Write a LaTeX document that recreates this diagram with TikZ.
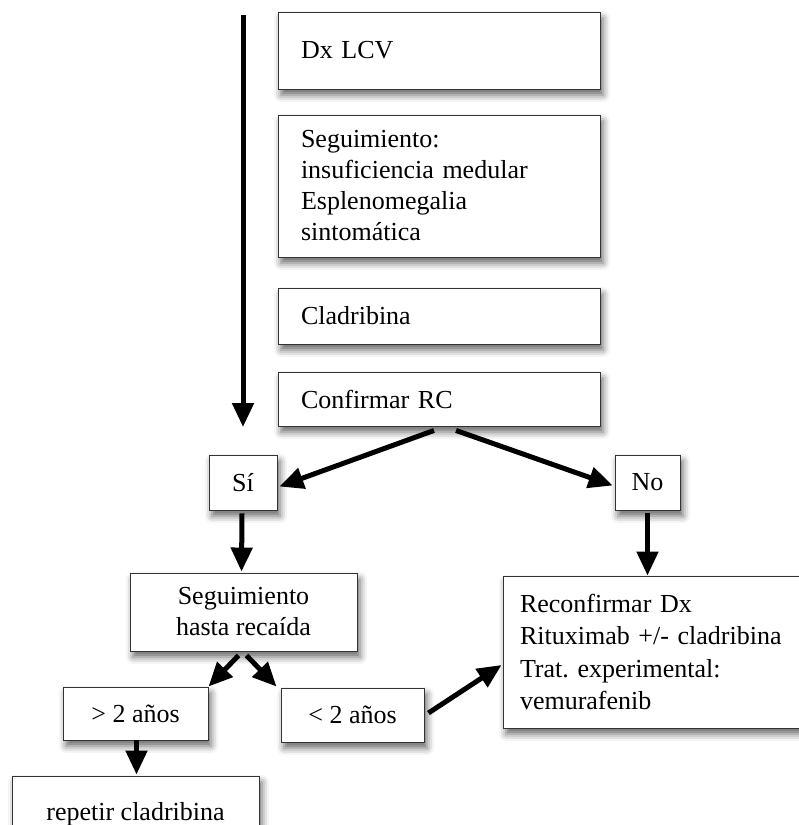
\documentclass[tikz,border=0pt]{standalone}
\usepackage{fontspec}
\setmainfont{Liberation Serif}
\usetikzlibrary{arrows.meta}
\usetikzlibrary{calc}
\usetikzlibrary{shadows.blur}
\frenchspacing

\begin{document}
\begin{tikzpicture}[
					x=1pt, y=-1pt,
					caja/.style={draw=black!80, line width=0.9pt, fill=white, font=\fontsize{26}{31}\selectfont,
						blur shadow={shadow xshift=3pt, shadow yshift=-6pt, shadow blur radius=7pt, shadow opacity=60}},
					izq/.style={caja, align=left, inner xsep=23pt, text width=276pt},
					cen/.style={caja, align=center, inner sep=0pt},
					flecha/.style={line width=5pt, -{Triangle[length=24pt, width=21pt]}}
				]
					\useasboundingbox (0,0) rectangle (799,825);
					\clip (0,0) rectangle (799,825);
					% columna de arriba
					\node[izq, minimum height=77pt] (dx) at (439,50.5) {Dx LCV};
					\node[izq, minimum height=142pt] (seg) at (439,186) {Seguimiento:\\insuficiencia medular\\Esplenomegalia\\sintomática};
					\node[izq, minimum height=56pt] (clad) at (439,316) {Cladribina};
					\node[izq, minimum height=54pt] (conf) at (439,399) {Confirmar RC};
					% respuesta
					\node[cen, minimum width=68pt, minimum height=55pt] (si) at (243,482.5) {Sí};
					\node[cen, minimum width=65pt, minimum height=55pt] (no) at (647.5,482.5) {No};
					\node[cen, minimum width=227pt, minimum height=78pt] (segrec) at (243.5,612) {Seguimiento\\hasta recaída};
					\node[caja, align=left, inner xsep=17pt, text width=286pt, minimum height=152pt,
						font=\fontsize{26}{32.5}\selectfont] (rec) at (663,652)
						{Reconfirmar Dx\\Rituximab +/- cladribina\\Trat. experimental:\\vemurafenib};
					\node[cen, minimum width=145pt, minimum height=53pt] (mas) at (135.5,713.5) {> 2 años};
					\node[cen, minimum width=143pt, minimum height=54pt] (menos) at (352.5,715) {< 2 años};
					\node[cen, minimum width=247pt, minimum height=76pt] (rep) at (135.5,814) {repetir cladribina};

					\coordinate (ini) at (243,15);
					\coordinate (fin) at (243,427);
					\draw[flecha] (ini) -- (fin);
					\draw[flecha] ($(conf.south)+(-5,4)$) -- ($(si.east)+(2,4)$);
					\draw[flecha] ($(conf.south)+(17,4)$) -- ($(no.west)+(-2,3)$);
					\draw[flecha] ($(si.south)+(-1,3)$) -- ($(segrec.north)+(-2,-1)$);
					\draw[flecha] ($(no.south)+(0,3)$) -- (no.south |- rec.north);
					\draw[flecha] ($(segrec.south)+(-5,4)$) -- (mas.north east);
					\draw[flecha] ($(segrec.south)+(3,4)$) -- ($(menos.north west)+(-4,-1)$);
					\draw[flecha] ($(menos.east)+(4,-2)$) -- ($(rec.west)+(-1,13)$);
					\draw[flecha] ($(mas.south)+(1,0)$) -- ($(mas.south |- rep.north)+(1,-1)$);
				\end{tikzpicture}
\end{document}
